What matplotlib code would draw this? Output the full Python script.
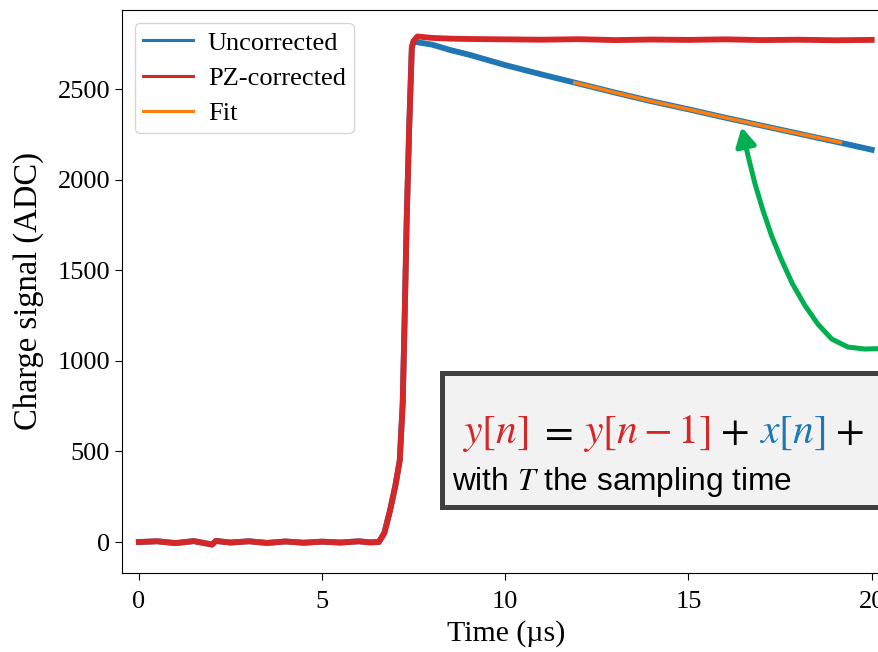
import matplotlib
matplotlib.use("Agg")
import matplotlib.pyplot as plt
from matplotlib.patches import Rectangle, FancyArrowPatch
from matplotlib.path import Path

plt.rcParams['font.family'] = ['Liberation Serif', 'DejaVu Serif']
plt.rcParams['mathtext.fontset'] = 'stix'

# baseline + leading edge (shared by both traces), time in us, charge in ADC
t_edge = [0.0, 0.5, 1.0, 1.5, 2.0, 2.1, 2.5, 3.0, 3.5, 4.0, 4.5, 5.0, 5.5, 6.0, 6.3,
          6.55, 6.7, 6.85, 7.0, 7.12, 7.2, 7.25, 7.31, 7.38, 7.45, 7.5]
v_edge = [0, 4, -6, 5, -14, 6, -3, 4, -5, 3, -4, 2, -3, 4, -2,
          0, 50, 170, 310, 450, 760, 1200, 1780, 2300, 2730, 2765]

# uncorrected tail (exponential decay)
t_tail = [7.6, 8.0, 8.5, 9.0, 10.0, 11.0, 12.0, 13.0, 14.0, 15.0, 16.0, 17.0, 18.0, 19.0, 20.0]
v_unc = [2758, 2745, 2715, 2690, 2632, 2580, 2530, 2480, 2432, 2388, 2342, 2298, 2254, 2210, 2165]

# pole-zero corrected tail (flat)
v_pz = [2790, 2782, 2778, 2776, 2774, 2772, 2775, 2770, 2773, 2771, 2774, 2770, 2772, 2769, 2771]

# fit to the uncorrected tail
t_fit = [11.9, 13.0, 14.0, 15.0, 16.0, 17.0, 18.0, 19.15]
v_fit = [2535, 2480, 2432, 2388, 2342, 2298, 2254, 2205]

# green call-out arrow, traced from its start (off the right edge) to the tip
arrow_t = [20.90, 19.81, 19.35, 18.91, 18.53, 18.17, 17.84, 17.54, 17.27, 17.03, 16.81, 16.62, 16.45]
arrow_v = [1071, 1065, 1076, 1120, 1203, 1308, 1424, 1556, 1689, 1832, 1981, 2136, 2290]

c_blue = '#1f77b4'
c_red = '#d62728'
c_orange = '#ff7f0e'
c_green = '#00b050'

fig = plt.figure(figsize=(8.79, 6.52), dpi=100)
ax = fig.add_axes([122 / 879, 79 / 652, 768 / 879, 563 / 652])

ax.plot(t_edge + t_tail, v_edge + v_unc, color=c_blue, lw=4.2, label='Uncorrected')
ax.plot(t_edge + t_tail, v_edge + v_pz, color=c_red, lw=4.2, label='PZ-corrected')
ax.plot(t_fit, v_fit, color=c_orange, lw=2.6, label='Fit')

ax.set_xlim(-0.46, 20.5)
ax.set_ylim(-171, 2936)
ax.set_xticks([0, 5, 10, 15, 20])
ax.set_yticks([0, 500, 1000, 1500, 2000, 2500])
ax.tick_params(labelsize=19, length=5)
ax.tick_params(axis='x', pad=8)
ax.spines['right'].set_visible(False)
ax.set_xlabel('Time (µs)', fontsize=21.5, labelpad=5)
ax.set_ylabel('Charge signal (ADC)', fontsize=23.5, labelpad=10)
leg = ax.legend(loc='upper left', fontsize=19, handlelength=1.9,
                labelspacing=0.45, borderpad=0.3, handletextpad=0.55)
for ln in leg.get_lines():
    ln.set_linewidth(2.2)

# curved green arrow pointing at the decay
curve = Path(list(zip(arrow_t, arrow_v)))
arrow = FancyArrowPatch(path=curve, arrowstyle='-|>,head_length=11,head_width=6',
                        color=c_green, lw=3.6, shrinkA=0, shrinkB=0,
                        joinstyle='round', capstyle='round',
                        clip_on=False, zorder=5)
ax.add_patch(arrow)

# overlay box with the correction formula
box = Rectangle((442 / 879, 145 / 652), 0.6, 134 / 652, transform=fig.transFigure,
                facecolor='#f2f2f2', edgecolor='#404040', lw=3.6, zorder=10)
fig.patches.append(box)

r = fig.canvas.get_renderer()
parts = [(r'$y[n]$', c_red), (r'$=$', 'black'), (r'$y[n-1]$', c_red),
         (r'$+$', 'black'), (r'$x[n]$', c_blue), (r'$+$', 'black')]
x = 462 / 879
gap = 10 / 879
for s, c in parts:
    t = fig.text(x, 1 - 443 / 652, s, color=c, fontsize=30, zorder=11)
    x += t.get_window_extent(renderer=r).width / fig.bbox.width + gap

fig.text(452 / 879, 1 - 490 / 652, r'with $T$ the sampling time', fontsize=22.8,
         family=['Liberation Sans', 'DejaVu Sans'], zorder=11)

fig.savefig('out.png', dpi=100)
